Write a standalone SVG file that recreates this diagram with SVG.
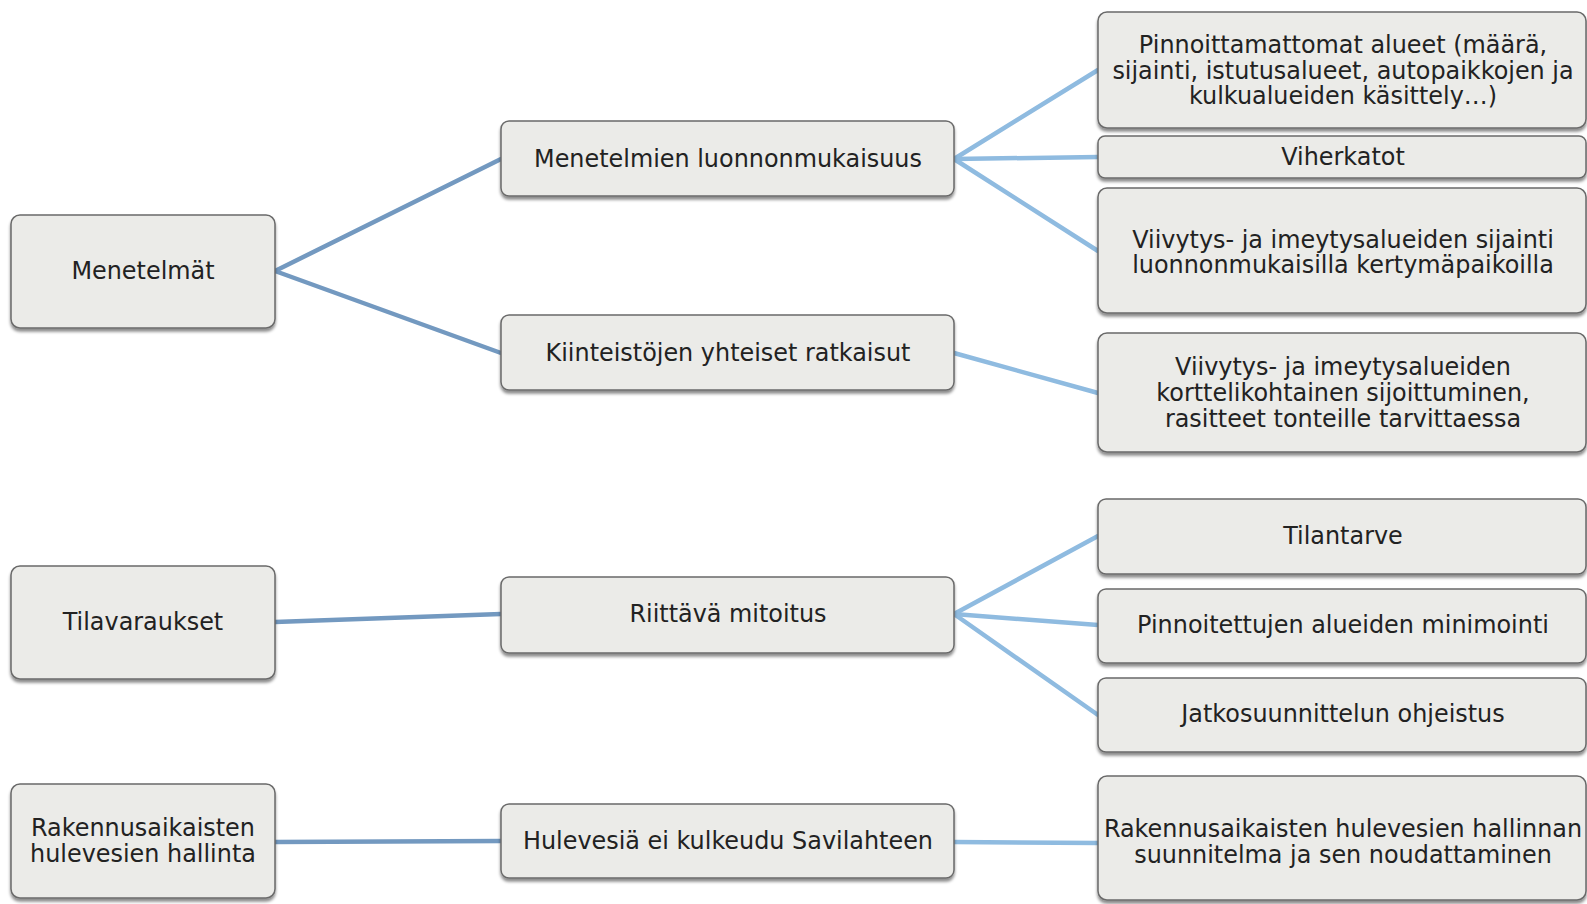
<svg xmlns="http://www.w3.org/2000/svg" width="1587" height="904" viewBox="0 0 1587 904">
<style>
.box{fill:#ebebe8;stroke:#6a6a6a;stroke-width:1.5}
.t{font-family:"DejaVu Sans","Verdana",sans-serif;font-size:23.9px;fill:#222;text-anchor:middle}
.c1{stroke:#7399c0;stroke-width:4.5;fill:none;stroke-linecap:round}
.c2{stroke:#8fbbe0;stroke-width:4.5;fill:none;stroke-linecap:round}
</style>
<defs>
<filter id="sh" x="-5%" y="-10%" width="110%" height="130%">
<feDropShadow dx="0" dy="3" stdDeviation="1.8" flood-color="#000" flood-opacity="0.45"/>
</filter>
</defs>
<rect width="1587" height="904" fill="#fff"/>
<g id="connectors">
<line class="c1" x1="275" y1="271" x2="501" y2="159"/>
<line class="c1" x1="275" y1="271" x2="501" y2="353"/>
<line class="c1" x1="275" y1="622" x2="501" y2="614"/>
<line class="c1" x1="275" y1="842" x2="501" y2="841"/>
<line class="c2" x1="954" y1="159" x2="1098" y2="70"/>
<line class="c2" x1="954" y1="159" x2="1098" y2="157"/>
<line class="c2" x1="954" y1="159" x2="1098" y2="251"/>
<line class="c2" x1="954" y1="353" x2="1098" y2="393"/>
<line class="c2" x1="954" y1="614" x2="1098" y2="536"/>
<line class="c2" x1="954" y1="614" x2="1098" y2="625"/>
<line class="c2" x1="954" y1="614" x2="1098" y2="715"/>
<line class="c2" x1="954" y1="842" x2="1098" y2="843"/>
</g>
<g id="n-menetelmat"><rect class="box" filter="url(#sh)" x="11" y="215" width="264" height="113" rx="9"/><text class="t" x="143" y="279">Menetelmät</text></g>
<g id="n-tilavaraukset"><rect class="box" filter="url(#sh)" x="11" y="566" width="264" height="113" rx="9"/><text class="t" x="143" y="630">Tilavaraukset</text></g>
<g id="n-rakennusaikaisten"><rect class="box" filter="url(#sh)" x="11" y="784" width="264" height="114" rx="9"/><text class="t" x="143" y="836">Rakennusaikaisten</text><text class="t" x="143" y="862">hulevesien hallinta</text></g>
<g id="n-luonnonmukaisuus"><rect class="box" filter="url(#sh)" x="501" y="121" width="453" height="75" rx="8"/><text class="t" x="728" y="167">Menetelmien luonnonmukaisuus</text></g>
<g id="n-kiinteistot"><rect class="box" filter="url(#sh)" x="501" y="315" width="453" height="75" rx="8"/><text class="t" x="728" y="361">Kiinteistöjen yhteiset ratkaisut</text></g>
<g id="n-mitoitus"><rect class="box" filter="url(#sh)" x="501" y="577" width="453" height="76" rx="8"/><text class="t" x="728" y="622">Riittävä mitoitus</text></g>
<g id="n-hulevesia"><rect class="box" filter="url(#sh)" x="501" y="804" width="453" height="74" rx="8"/><text class="t" x="728" y="849">Hulevesiä ei kulkeudu Savilahteen</text></g>
<g id="n-pinnoittamattomat"><rect class="box" filter="url(#sh)" x="1098" y="12" width="488" height="116" rx="9"/><text class="t" x="1343" y="53">Pinnoittamattomat alueet (määrä,</text><text class="t" x="1343" y="79">sijainti, istutusalueet, autopaikkojen ja</text><text class="t" x="1343" y="104">kulkualueiden käsittely…)</text></g>
<g id="n-viherkatot"><rect class="box" filter="url(#sh)" x="1098" y="136" width="488" height="42" rx="7"/><text class="t" x="1343" y="165">Viherkatot</text></g>
<g id="n-sijainti"><rect class="box" filter="url(#sh)" x="1098" y="188" width="488" height="125" rx="9"/><text class="t" x="1343" y="248">Viivytys- ja imeytysalueiden sijainti</text><text class="t" x="1343" y="273">luonnonmukaisilla kertymäpaikoilla</text></g>
<g id="n-kortteli"><rect class="box" filter="url(#sh)" x="1098" y="333" width="488" height="119" rx="9"/><text class="t" x="1343" y="375">Viivytys- ja imeytysalueiden</text><text class="t" x="1343" y="401">korttelikohtainen sijoittuminen,</text><text class="t" x="1343" y="427">rasitteet tonteille tarvittaessa</text></g>
<g id="n-tilantarve"><rect class="box" filter="url(#sh)" x="1098" y="499" width="488" height="75" rx="8"/><text class="t" x="1343" y="544">Tilantarve</text></g>
<g id="n-pinnoitettujen"><rect class="box" filter="url(#sh)" x="1098" y="589" width="488" height="74" rx="8"/><text class="t" x="1343" y="633">Pinnoitettujen alueiden minimointi</text></g>
<g id="n-jatko"><rect class="box" filter="url(#sh)" x="1098" y="678" width="488" height="74" rx="8"/><text class="t" x="1343" y="722">Jatkosuunnittelun ohjeistus</text></g>
<g id="n-hallinnan"><rect class="box" filter="url(#sh)" x="1098" y="776" width="488" height="124" rx="9"/><text class="t" x="1343" y="837">Rakennusaikaisten hulevesien hallinnan</text><text class="t" x="1343" y="863">suunnitelma ja sen noudattaminen</text></g>
</svg>
